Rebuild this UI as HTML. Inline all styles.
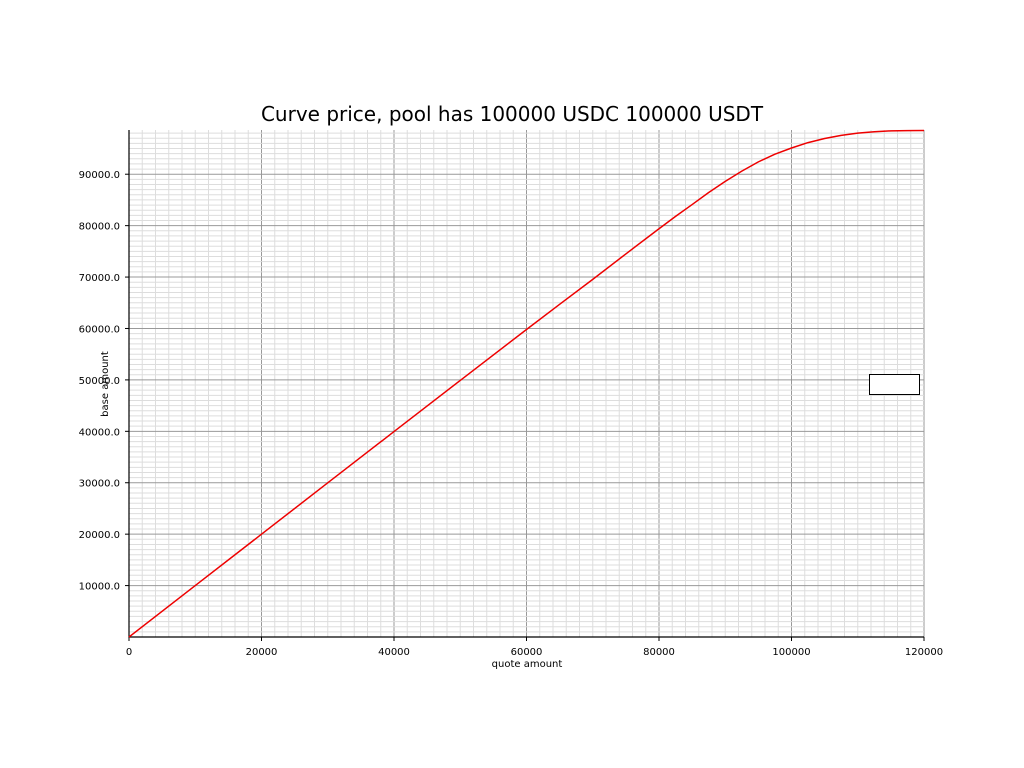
<!DOCTYPE html>
<html><head><meta charset="utf-8"><style>body{margin:0;background:#fff}svg{display:block;font-family:"DejaVu Sans","Liberation Sans",sans-serif}</style></head>
<body>
<svg id="c" width="1024" height="768"></svg>
<script>
const xValues=[0,10000,20000,30000,40000,50000,60000,65000,70000,75000,80000,82500,85000,87500,90000,92500,95000,97500,100000,102500,105000,107500,110000,112500,115000,117500,120000];
const yValues=[0,10000,19990,29980,39950,49900,59800,64700,69550,74500,79400,81800,84100,86450,88600,90600,92400,93900,95100,96150,96950,97550,97990,98250,98430,98480,98500];
const xTicks=[0,20000,40000,60000,80000,100000,120000];
const yTicks=[10000,20000,30000,40000,50000,60000,70000,80000,90000];
const L=129,R=924,T=130,B=637,XMAX=120000,YMAX=98600;
const sx=v=>L+v/XMAX*(R-L), sy=v=>B-v/YMAX*(B-T);
const s=document.getElementById('c'),NS='http://www.w3.org/2000/svg';
function mk(t,a,p){const e=document.createElementNS(NS,t);for(const k in a)e.setAttribute(k,a[k]);(p||s).appendChild(e);return e;}
const g=mk('g',{});


for(let v=0;v<=XMAX;v+=2000){const x=sx(v);const maj=v%20000==0;mk('line',{x1:x,x2:x,y1:T,y2:B,stroke:maj?'#999':'#ddd','stroke-width':1},g);}
for(let v=1000;v<=YMAX;v+=1000){const y=sy(v);const maj=v%10000==0;mk('line',{x1:L,x2:R,y1:y,y2:y,stroke:maj?'#999':'#ddd','stroke-width':1},g);}
const ax=mk('path',{d:`M${L},${T}V${B}H${R}`,stroke:'#000',fill:'none','stroke-width':1.2});


xTicks.forEach(v=>{const x=sx(v);mk('line',{x1:x,x2:x,y1:B,y2:B+4,stroke:'#000'});const t=mk('text',{x:x,y:B+18,'text-anchor':'middle','font-size':10});t.textContent=v;});
yTicks.forEach(v=>{const y=sy(v);mk('line',{x1:L-4,x2:L,y1:y,y2:y,stroke:'#000'});const t=mk('text',{x:L-9,y:y+4,'text-anchor':'end','font-size':10});t.textContent=v.toFixed(1);});
const ln=mk('polyline',{points:xValues.map((x,i)=>sx(x)+','+sy(yValues[i])).join(' '),fill:'none',stroke:'#e00','stroke-width':1.5,'stroke-linejoin':'round'});


const lg=mk('rect',{x:869.5,y:374.5,width:50,height:20,fill:'#fff',stroke:'#000'});


const ti=mk('text',{x:512,y:121,'text-anchor':'middle','font-size':20});ti.textContent='Curve price, pool has 100000 USDC 100000 USDT';


const xl=mk('text',{x:527,y:667,'text-anchor':'middle','font-size':10});xl.textContent='quote amount';


const yl=mk('text',{x:108,y:384,'text-anchor':'middle','font-size':10,transform:'rotate(-90 108 384)'});yl.textContent='base amount';


</script>
</body></html>
